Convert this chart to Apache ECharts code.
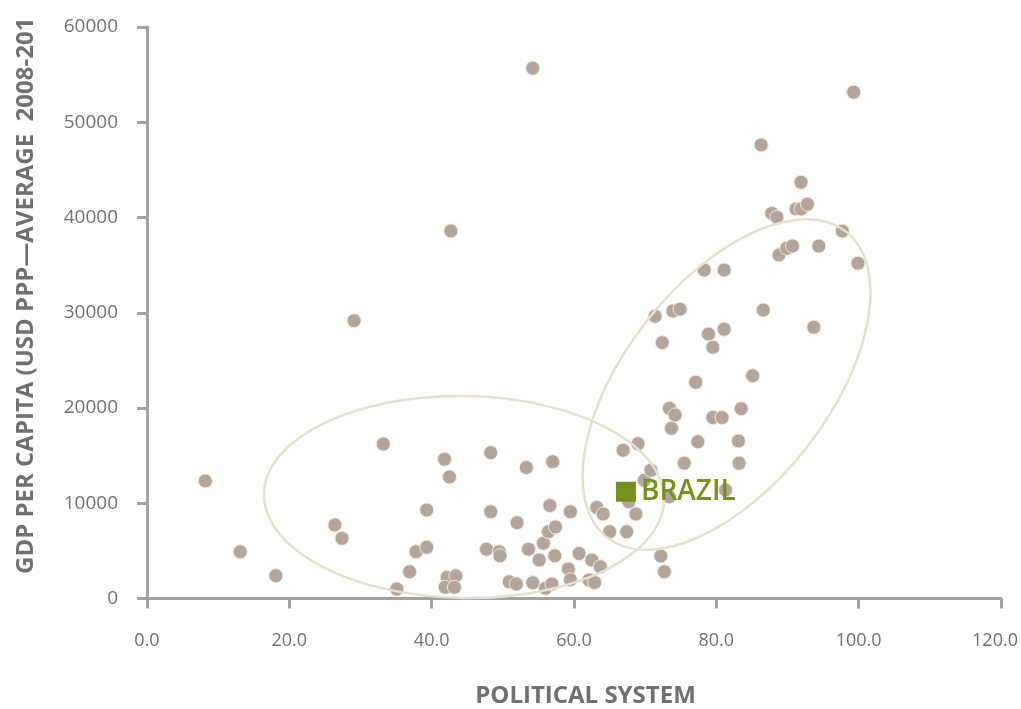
<!DOCTYPE html>
<html>
<head>
<meta charset="utf-8">
<script src="https://cdn.jsdelivr.net/npm/echarts@6/dist/echarts.min.js"></script>
<style>
  html, body { margin: 0; padding: 0; background: #fff; }
  #chart { width: 1021px; height: 709px; }
</style>
</head>
<body>
<div id="chart"></div>
<script>
// political system score (x) and GDP per capita (y), one entry per country
const politicalScore = [
  8.2, 13.1, 18.1, 26.4, 27.4, 29.1, 33.2, 35.1, 36.9, 37.8,
  39.3, 39.3, 41.8, 42.5, 42.2, 41.9, 43.4, 43.2, 42.7, 47.7,
  48.3, 48.3, 49.5, 49.6, 50.9, 51.9, 52.0, 53.3, 53.6, 54.2,
  54.2, 55.1, 55.7, 56.4, 56.0, 56.6, 57.0, 57.4, 56.9, 57.3,
  59.5, 59.2, 59.5, 60.7, 62.1, 62.9, 62.5, 63.2, 63.7, 64.1,
  65.0, 66.9, 67.4, 67.7, 69.0, 68.7, 69.9, 70.8, 72.2, 72.7,
  72.4, 71.4, 73.4, 81.3, 73.9, 74.9, 73.4, 74.2, 73.7, 77.1,
  77.4, 75.5, 78.3, 81.1, 78.9, 81.1, 79.5, 79.5, 80.8, 83.5,
  83.1, 83.2, 85.1, 86.6, 86.3, 87.8, 88.5, 88.8, 89.9, 90.7,
  91.2, 91.9, 92.8, 91.9, 93.7, 94.4, 97.7, 99.3, 99.9
];
const gdpPerCapita = [
  12340, 4910, 2390, 7720, 6320, 29170, 16220, 1000, 2810, 4910,
  5380, 9290, 14620, 12760, 2230, 1180, 2380, 1180, 38590, 5170,
  15310, 9110, 4910, 4490, 1760, 1520, 7960, 13750, 5170, 55670,
  1660, 4040, 5800, 7010, 1070, 9760, 14360, 7510, 1520, 4480,
  9110, 3100, 1970, 4730, 1940, 1680, 4040, 9550, 3340, 8870,
  7010, 15560, 7010, 10160, 16250, 8870, 12410, 13460, 4460, 2810,
  26860, 29630, 10690, 11390, 30190, 30370, 19970, 19270, 17870, 22700,
  16460, 14200, 34490, 34490, 27770, 28270, 26380, 19000, 19000, 19930,
  16540, 14200, 23390, 30290, 47620, 40440, 40020, 36070, 36770, 37010,
  40900, 40900, 41390, 43700, 28480, 37010, 38570, 53150, 35200
];
// highlighted country
const highlightName = 'BRAZIL';
const highlightPoint = [67.3, 11210];

const xAxisName = 'POLITICAL SYSTEM';
const yAxisName = 'GDP PER CAPITA (USD PPP\u2014AVERAGE  2008-201';

const axisGrey = '#a2a2a2';
const labelGrey = '#707070';
const dotColor = '#b3a59c';
const green = '#78901c';
const ringColor = '#e6e0d1';

let chart = echarts.init(document.getElementById('chart'));

chart.setOption({
  backgroundColor: '#fff',
  animation: false,
  grid: { left: 147, right: 20, top: 27, bottom: 110.5, outerBoundsMode: 'none' },
  xAxis: {
    type: 'value',
    min: 0,
    max: 120,
    interval: 20,
    splitLine: { show: false },
    axisLine: { lineStyle: { color: axisGrey, width: 3 } },
    axisTick: { length: 10, lineStyle: { color: axisGrey, width: 3 } },
    axisLabel: {
      margin: 33,
      color: labelGrey,
      fontSize: 18,
      fontFamily: 'Open Sans',
      // last label is nudged left so it stays inside the picture
      formatter: function (v) {
        return v === 120 ? '{last|' + v.toFixed(1) + '}' : v.toFixed(1);
      },
      rich: {
        last: { color: labelGrey, fontSize: 18, fontFamily: 'Open Sans', padding: [0, 12, 0, 0] }
      }
    },
    name: xAxisName,
    nameLocation: 'middle',
    nameGap: 86,
    nameTextStyle: {
      color: labelGrey,
      fontSize: 24,
      fontWeight: 'bold',
      fontFamily: 'Open Sans',
      padding: [0, 0, 0, 23]
    }
  },
  yAxis: {
    type: 'value',
    min: 0,
    max: 60000,
    interval: 10000,
    splitLine: { show: false },
    axisLine: { show: true, lineStyle: { color: axisGrey, width: 3 } },
    axisTick: { show: true, length: 10, lineStyle: { color: axisGrey, width: 3 } },
    axisLabel: {
      margin: 29,
      color: labelGrey,
      fontSize: 19,
      fontFamily: 'Open Sans',
      formatter: function (v) { return String(v); }
    }
  },
  // the two hand-drawn groupings and the y axis title
  graphic: [
    {
      type: 'ellipse',
      z: 50,
      x: 464, y: 497,
      rotation: -0.015,
      shape: { cx: 0, cy: 0, rx: 200, ry: 101 },
      style: { fill: null, stroke: ringColor, lineWidth: 2.5 },
      silent: true
    },
    {
      type: 'ellipse',
      z: 50,
      x: 726.5, y: 384.5,
      rotation: 52 * Math.PI / 180,
      shape: { cx: 0, cy: 0, rx: 194, ry: 102 },
      style: { fill: null, stroke: ringColor, lineWidth: 2.5 },
      silent: true
    },
    {
      type: 'text',
      z: 50,
      x: 26, y: 574,
      rotation: Math.PI / 2,
      style: {
        text: yAxisName,
        fill: labelGrey,
        font: 'bold 24px "Open Sans"',
        align: 'left',
        verticalAlign: 'middle'
      },
      silent: true
    }
  ],
  series: [
    {
      type: 'scatter',
      symbolSize: 14,
      itemStyle: { color: dotColor, borderColor: '#efe9dc', borderWidth: 1, opacity: 1 },
      emphasis: { disabled: true },
      data: politicalScore.map(function (x, i) { return [x, gdpPerCapita[i]]; })
    },
    {
      type: 'scatter',
      symbol: 'rect',
      symbolSize: 20,
      z: 60,
      itemStyle: { color: green, opacity: 1 },
      emphasis: { disabled: true },
      label: {
        show: true,
        position: 'right',
        distance: 5,
        formatter: highlightName,
        color: green,
        fontSize: 28,
        fontWeight: 600,
        fontFamily: 'Open Sans'
      },
      data: [highlightPoint]
    }
  ]
});
</script>
</body>
</html>
